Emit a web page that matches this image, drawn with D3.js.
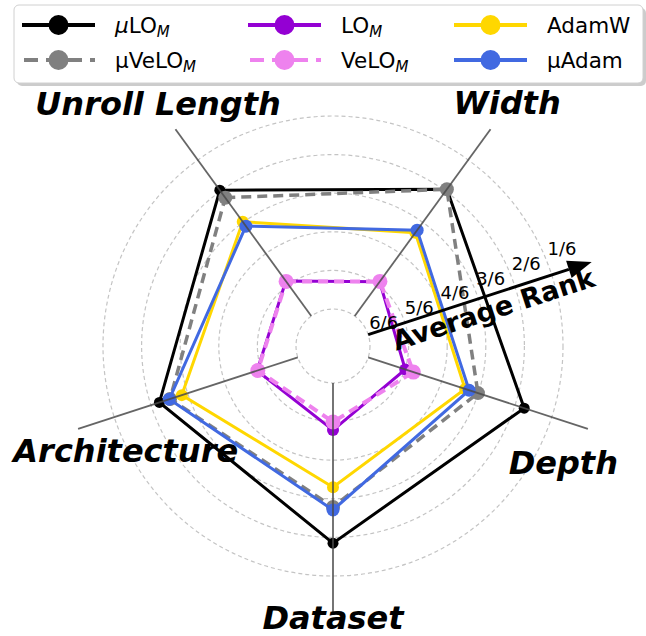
<!DOCTYPE html>
<html>
<head>
<meta charset="utf-8">
<script src="https://cdn.jsdelivr.net/npm/d3@7"></script>
<style>
  html, body { margin: 0; padding: 0; background: #fff; }
  svg { display: block; font-family: "DejaVu Sans", sans-serif; }
</style>
</head>
<body>
<svg id="chart" width="646" height="636"></svg>
<script>
// Radar axes, clockwise from the upper left
const categories = ["Unroll Length", "Width", "Depth", "Dataset", "Architecture"];

// Rank rings (6 = worst, 1 = best) and their labels
const rankValues = [6, 5, 4, 3, 2, 1];
const rankLabels = ["6/6", "5/6", "4/6", "3/6", "2/6", "1/6"];

// Average rank of each optimizer on each axis (same order as categories)
const muLOM   = [1.97, 1.94, 1.75, 1.85, 2.23];
const muVeLOM = [2.21, 1.94, 3.01, 2.79, 2.52];
const LOM     = [4.88, 4.90, 4.99, 4.78, 4.89];
const VeLOM   = [4.89, 4.89, 4.77, 4.99, 4.91];
const adamW   = [2.98, 3.33, 3.36, 3.30, 2.84];
const muAdam  = [3.12, 3.25, 3.25, 2.71, 2.50];

const series = [
  { key: "muLOM",   values: muLOM,   color: "#000000", dash: null,   width: 3,   r: 5.5, legendRow: 0, legendCol: 0, muItalic: true,  base: "LO",    sub: "M" },
  { key: "muVeLOM", values: muVeLOM, color: "#808080", dash: "10,6", width: 3.5, r: 7,   legendRow: 1, legendCol: 0, muItalic: false, base: "µVeLO", sub: "M" },
  { key: "LOM",     values: LOM,     color: "#9400D3", dash: null,   width: 3,   r: 6,   legendRow: 0, legendCol: 1, muItalic: false, base: "LO",    sub: "M" },
  { key: "VeLOM",   values: VeLOM,   color: "#EE82EE", dash: "10,6", width: 4,   r: 7.5, legendRow: 1, legendCol: 1, muItalic: false, base: "VeLO",  sub: "M" },
  { key: "adamW",   values: adamW,   color: "#FFD700", dash: null,   width: 3,   r: 6,   legendRow: 0, legendCol: 2, muItalic: false, base: "AdamW", sub: null },
  { key: "muAdam",  values: muAdam,  color: "#4169E1", dash: null,   width: 3,   r: 6.5, legendRow: 1, legendCol: 2, muItalic: false, base: "µAdam", sub: null }
];

const svg = d3.select("#chart");
const cx = 333, cy = 346;

// rank -> radius
const rScale = d3.scaleLinear().domain([6, 1]).range([37, 230]);

const deg = Math.PI / 180;
const angleOf = i => (126 - 72 * i) * deg;
const pt = (r, a) => [cx + r * Math.cos(a), cy - r * Math.sin(a)];

// dashed rank rings
svg.append("g").selectAll("circle")
  .data(rankValues)
  .join("circle")
  .attr("cx", cx).attr("cy", cy)
  .attr("r", d => rScale(d))
  .attr("fill", "none")
  .attr("stroke", "#c4c4c4")
  .attr("stroke-width", 1.2)
  .attr("stroke-dasharray", "4,3");

// polygons
const lineGen = d3.line().curve(d3.curveLinearClosed);
const gSeries = svg.append("g");
series.forEach(s => {
  const pts = s.values.map((v, i) => pt(rScale(v), angleOf(i)));
  gSeries.append("path")
    .attr("d", lineGen(pts))
    .attr("fill", "none")
    .attr("stroke", s.color)
    .attr("stroke-width", s.width)
    .attr("stroke-linejoin", "miter")
    .attr("stroke-dasharray", s.dash);
  gSeries.append("g").selectAll("circle")
    .data(pts)
    .join("circle")
    .attr("cx", d => d[0]).attr("cy", d => d[1])
    .attr("r", s.r)
    .attr("fill", s.color);
});

// spokes
const rMinSpoke = 37, rMaxSpoke = 268;
svg.append("g").selectAll("line")
  .data(categories)
  .join("line")
  .attr("x1", (d, i) => pt(rMinSpoke, angleOf(i))[0])
  .attr("y1", (d, i) => pt(rMinSpoke, angleOf(i))[1])
  .attr("x2", (d, i) => pt(rMaxSpoke, angleOf(i))[0])
  .attr("y2", (d, i) => pt(rMaxSpoke, angleOf(i))[1])
  .attr("stroke", "#4a4a4a")
  .attr("stroke-opacity", 0.85)
  .attr("stroke-width", 1.8);

// axis titles (label radius / angle tweaks per spoke)
const titleRadius = [299, 299, 258, 271, 232];
const titleAngle  = [125.8, 54.4, -26.8, -90, 206.7];
svg.append("g").selectAll("text")
  .data(categories)
  .join("text")
  .attr("x", (d, i) => pt(titleRadius[i], titleAngle[i] * deg)[0])
  .attr("y", (d, i) => pt(titleRadius[i], titleAngle[i] * deg)[1])
  .attr("text-anchor", "middle")
  .attr("dy", "0.36em")
  .attr("font-size", 32)
  .attr("font-weight", "bold")
  .attr("font-style", "italic")
  .attr("fill", "#000")
  .text(d => d);

// rank arrow along the bisector between Width and Depth
const arrowAngle = 18 * deg;
const a0 = pt(rScale(6), arrowAngle);
const a1 = pt(248, arrowAngle);
svg.append("line")
  .attr("x1", a0[0]).attr("y1", a0[1])
  .attr("x2", a1[0]).attr("y2", a1[1])
  .attr("stroke", "#000").attr("stroke-width", 3);
svg.append("path")
  .attr("transform", `translate(${a1[0]},${a1[1]}) rotate(${-18})`)
  .attr("d", "M0,-9 L24,0 L0,9 Z")
  .attr("fill", "#000");

// rank tick labels
const tickAngle = 22.5 * deg;
svg.append("g").selectAll("text")
  .data(rankValues)
  .join("text")
  .attr("x", d => pt(rScale(d), tickAngle)[0] + 2)
  .attr("y", d => pt(rScale(d), tickAngle)[1] - 3)
  .attr("text-anchor", "start")
  .attr("font-size", 18)
  .attr("fill", "#000")
  .text((d, i) => rankLabels[i]);

// "Average Rank" caption under the arrow
const capPos = pt(164, arrowAngle);
svg.append("text")
  .attr("transform", `translate(${capPos[0]},${capPos[1]}) rotate(-18)`)
  .attr("x", 0).attr("y", 24)
  .attr("text-anchor", "middle")
  .attr("font-size", 27)
  .attr("font-weight", "bold")
  .attr("fill", "#000")
  .text("Average Rank");

// legend
const gLeg = svg.append("g");
gLeg.append("rect")
  .attr("x", 17).attr("y", 8).attr("width", 629).attr("height", 78)
  .attr("rx", 5).attr("fill", "#999").attr("opacity", 0.5);
gLeg.append("rect")
  .attr("x", 14).attr("y", 5).attr("width", 629).attr("height", 78)
  .attr("rx", 5).attr("fill", "#fff").attr("stroke", "#d0d0d0").attr("stroke-width", 1);

const colX = [22, 248, 454];
const rowY = [25, 60];
series.forEach(s => {
  const x0 = colX[s.legendCol], y0 = rowY[s.legendRow];
  const g = gLeg.append("g");
  g.append("line")
    .attr("x1", x0).attr("x2", x0 + 73)
    .attr("y1", y0).attr("y2", y0)
    .attr("stroke", s.color).attr("stroke-width", 4)
    .attr("stroke-dasharray", s.dash ? "14,8" : null)
    .attr("stroke-dashoffset", s.dash ? -2 : null);
  g.append("circle")
    .attr("cx", x0 + 36.5).attr("cy", y0).attr("r", 10)
    .attr("fill", s.color);
  const t = g.append("text")
    .attr("x", x0 + 93).attr("y", y0 + 7.5)
    .attr("font-size", 21.5)
    .attr("fill", "#000");
  if (s.muItalic) t.append("tspan").attr("font-style", "italic").text("μ");
  t.append("tspan").text(s.base);
  if (s.sub) t.append("tspan").attr("font-style", "italic").attr("font-size", 15).attr("dy", 4).text(s.sub);
});
</script>
</body>
</html>
